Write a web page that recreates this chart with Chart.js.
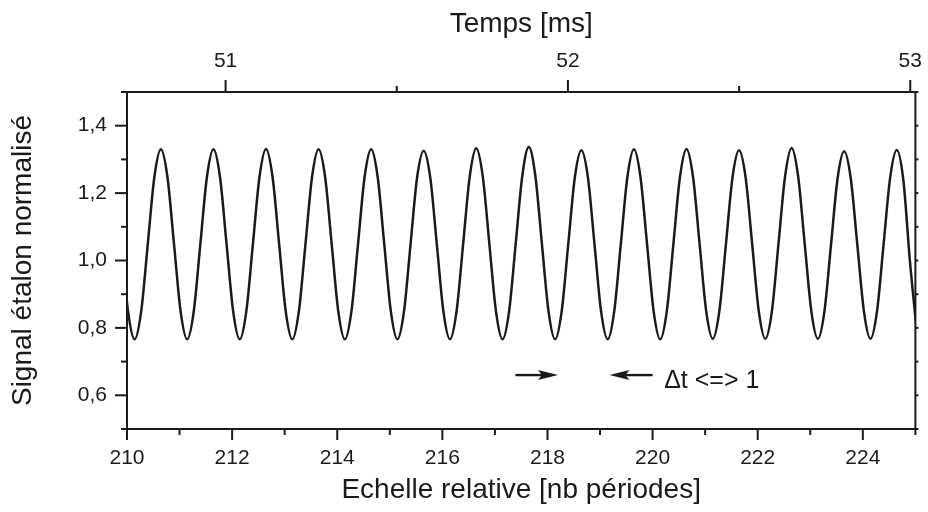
<!DOCTYPE html>
<html>
<head>
<meta charset="utf-8">
<script src="https://cdn.jsdelivr.net/npm/chart.js@4.4.1/dist/chart.umd.min.js"></script>
<style>
    html, body { margin: 0; padding: 0; background: #fff; }
    #wrap { width: 928px; height: 512px; }
</style>
</head>
<body>
<div id="wrap"><canvas id="myChart" width="928" height="512"></canvas></div>
<script>
// positions des échantillons (nb périodes)
const periodes = [
    209.895, 210.020, 210.145, 210.270, 210.395, 210.520,
    210.645, 210.770, 210.895, 211.020, 211.145, 211.270, 211.395, 211.520,
    211.645, 211.770, 211.895, 212.020, 212.145, 212.270, 212.395, 212.520,
    212.645, 212.770, 212.895, 213.020, 213.145, 213.270, 213.395, 213.520,
    213.645, 213.770, 213.895, 214.020, 214.145, 214.270, 214.395, 214.520,
    214.645, 214.770, 214.895, 215.020, 215.145, 215.270, 215.395, 215.520,
    215.645, 215.770, 215.895, 216.020, 216.145, 216.270, 216.395, 216.520,
    216.645, 216.770, 216.895, 217.020, 217.145, 217.270, 217.395, 217.520,
    217.645, 217.770, 217.895, 218.020, 218.145, 218.270, 218.395, 218.520,
    218.645, 218.770, 218.895, 219.020, 219.145, 219.270, 219.395, 219.520,
    219.645, 219.770, 219.895, 220.020, 220.145, 220.270, 220.395, 220.520,
    220.645, 220.770, 220.895, 221.020, 221.145, 221.270, 221.395, 221.520,
    221.645, 221.770, 221.895, 222.020, 222.145, 222.270, 222.395, 222.520,
    222.645, 222.770, 222.895, 223.020, 223.145, 223.270, 223.395, 223.520,
    223.645, 223.770, 223.895, 224.020, 224.145, 224.270, 224.395, 224.520,
    224.645, 224.770, 224.895, 225.020
];

// signal étalon normalisé
const signal = [
    1.048, 0.849, 0.766, 0.849, 1.048, 1.247,
    1.330, 1.247, 1.048, 0.849, 0.766, 0.849, 1.048, 1.247,
    1.330, 1.247, 1.048, 0.849, 0.766, 0.849, 1.048, 1.247,
    1.331, 1.247, 1.048, 0.849, 0.766, 0.849, 1.048, 1.247,
    1.330, 1.247, 1.048, 0.849, 0.766, 0.849, 1.048, 1.247,
    1.330, 1.247, 1.048, 0.849, 0.766, 0.849, 1.048, 1.247,
    1.326, 1.246, 1.048, 0.849, 0.766, 0.849, 1.048, 1.248,
    1.333, 1.248, 1.048, 0.849, 0.766, 0.849, 1.049, 1.250,
    1.337, 1.250, 1.048, 0.849, 0.766, 0.849, 1.048, 1.246,
    1.327, 1.246, 1.048, 0.849, 0.766, 0.849, 1.048, 1.247,
    1.330, 1.247, 1.048, 0.849, 0.766, 0.849, 1.048, 1.247,
    1.331, 1.247, 1.048, 0.850, 0.768, 0.850, 1.048, 1.246,
    1.327, 1.246, 1.048, 0.850, 0.768, 0.850, 1.049, 1.249,
    1.334, 1.249, 1.048, 0.850, 0.768, 0.850, 1.047, 1.244,
    1.324, 1.244, 1.047, 0.850, 0.768, 0.850, 1.048, 1.246,
    1.328, 1.240, 1.000, 0.800
];

const periodeTicks = [210, 211, 212, 213, 214, 215, 216, 217, 218, 219, 220, 221, 222, 223, 224, 225];
const signalTicks = [0.5, 0.6, 0.7, 0.8, 0.9, 1.0, 1.1, 1.2, 1.3, 1.4, 1.5];
const tempsTicks = [51, 51.5, 52, 52.5, 53];
const tempsMin = 50.712;
const tempsMax = 53.015;

// annotation (flèches + texte)
const flecheDroite = [217.39, 218.20];
const flecheGauche = [220.00, 219.18];
const flecheY = 0.66;
const noteX = 220.22;
const noteY = 0.621;
const noteText = 'Δt <=> 1';

const ink = '#1a1a1a';
Chart.defaults.font.family = '"Liberation Sans", Arial, Helvetica, sans-serif';
Chart.defaults.color = ink;

const setTicks = (values) => (scale) => {
    scale.ticks = values.map(v => ({ value: v }));
};

// cadre, graduations et annotation
const axesPlugin = {
    id: 'axesPlugin',
    afterDraw(chart) {
        const ctx = chart.ctx;
        const a = chart.chartArea;
        ctx.save();
        ctx.strokeStyle = ink;
        ctx.lineWidth = 2;
        ctx.lineCap = 'butt';
        ctx.strokeRect(a.left, a.top, a.right - a.left, a.bottom - a.top);

        const marks = (scale, len, dir) => {
            scale.ticks.forEach(t => {
                const major = scale.options.ticks.callback(t.value) !== '';
                const l = major ? len[0] : len[1];
                const p = scale.getPixelForValue(t.value);
                ctx.beginPath();
                if (dir === 'down') { ctx.moveTo(p, a.bottom); ctx.lineTo(p, a.bottom + l); }
                if (dir === 'up') { ctx.moveTo(p, a.top); ctx.lineTo(p, a.top - l); }
                if (dir === 'left') { ctx.moveTo(a.left, p); ctx.lineTo(a.left - l, p); }
                if (dir === 'right') { ctx.moveTo(a.right, p); ctx.lineTo(a.right + l, p); }
                ctx.stroke();
            });
        };
        marks(chart.scales.x, [11, 6], 'down');
        marks(chart.scales.x2, [12, 6], 'up');
        marks(chart.scales.y, [12, 6], 'left');
        marks(chart.scales.y2, [3, 3], 'right');

        const xs = chart.scales.x, ys = chart.scales.y;
        const arrow = (from, to) => {
            const x0 = xs.getPixelForValue(from), x1 = xs.getPixelForValue(to);
            const y = ys.getPixelForValue(flecheY);
            const d = Math.sign(x1 - x0);
            ctx.lineWidth = 2.4;
            ctx.beginPath();
            ctx.moveTo(x0, y);
            ctx.lineTo(x1 - d * 12, y);
            ctx.stroke();
            ctx.beginPath();
            ctx.moveTo(x1, y);
            ctx.lineTo(x1 - d * 20, y - 5);
            ctx.lineTo(x1 - d * 16, y);
            ctx.lineTo(x1 - d * 20, y + 5);
            ctx.closePath();
            ctx.fillStyle = ink;
            ctx.fill();
        };
        arrow(flecheDroite[0], flecheDroite[1]);
        arrow(flecheGauche[0], flecheGauche[1]);

        ctx.font = '25px "Liberation Sans", Arial, sans-serif';
        ctx.textAlign = 'left';
        ctx.textBaseline = 'alphabetic';
        ctx.fillText(noteText, xs.getPixelForValue(noteX), ys.getPixelForValue(noteY));
        ctx.restore();
    }
};

const ctx = document.getElementById('myChart').getContext('2d');

const config = {
    type: 'line',
    data: {
        datasets: [{
            data: periodes.map((p, i) => ({ x: p, y: signal[i] })),
            borderColor: ink,
            borderWidth: 2.5,
            pointRadius: 0,
            cubicInterpolationMode: 'monotone',
            fill: false
        }]
    },
    options: {
        responsive: false,
        animation: false,
        devicePixelRatio: 1,
        layout: { padding: 0 },
        plugins: {
            legend: { display: false },
            tooltip: { enabled: false }
        },
        scales: {
            x: {
                type: 'linear',
                position: 'bottom',
                min: 210,
                max: 225,
                afterBuildTicks: setTicks(periodeTicks),
                afterFit: (s) => { s.height = 83 },
                grid: { display: false, drawTicks: true, tickLength: 11 },
                border: { display: false },
                ticks: {
                    autoSkip: false,
                    maxRotation: 0,
                    padding: 6,
                    font: { size: 21 },
                    callback: (v) => (v % 2 === 0 ? String(v) : '')
                },
                title: {
                    display: true,
                    text: 'Echelle relative [nb périodes]',
                    font: { size: 28 },
                    padding: { top: 0, bottom: 5 }
                }
            },
            x2: {
                type: 'linear',
                position: 'top',
                min: tempsMin,
                max: tempsMax,
                afterBuildTicks: setTicks(tempsTicks),
                afterFit: (s) => { s.height = 92 },
                grid: { display: false, drawTicks: true, tickLength: 12 },
                border: { display: false },
                ticks: {
                    autoSkip: false,
                    maxRotation: 0,
                    padding: 6,
                    font: { size: 21 },
                    callback: (v) => (Number.isInteger(v) ? String(v) : '')
                },
                title: {
                    display: true,
                    text: 'Temps [ms]',
                    font: { size: 28 },
                    padding: { top: 7, bottom: 0 }
                }
            },
            y: {
                type: 'linear',
                position: 'left',
                min: 0.5,
                max: 1.5,
                afterBuildTicks: setTicks(signalTicks),
                afterFit: (s) => { s.width = 127 },
                grid: { display: false, drawTicks: true, tickLength: 12 },
                border: { display: false },
                ticks: {
                    autoSkip: false,
                    padding: 8,
                    font: { size: 21 },
                    callback: (v) => (Math.round(v * 10) % 2 === 0 ? v.toFixed(1).replace('.', ',') : '')
                },
                title: {
                    display: true,
                    text: 'Signal étalon normalisé',
                    font: { size: 28 },
                    padding: { top: 6, bottom: 0 }
                }
            },
            y2: {
                type: 'linear',
                position: 'right',
                min: 0.5,
                max: 1.5,
                afterBuildTicks: setTicks(signalTicks),
                afterFit: (s) => { s.width = 10 },
                grid: { display: false, drawTicks: false },
                border: { display: false },
                ticks: { display: false, callback: () => '' }
            }
        }
    },
    plugins: [axesPlugin]
};

const myChart = new Chart(ctx, config);
</script>
</body>
</html>
